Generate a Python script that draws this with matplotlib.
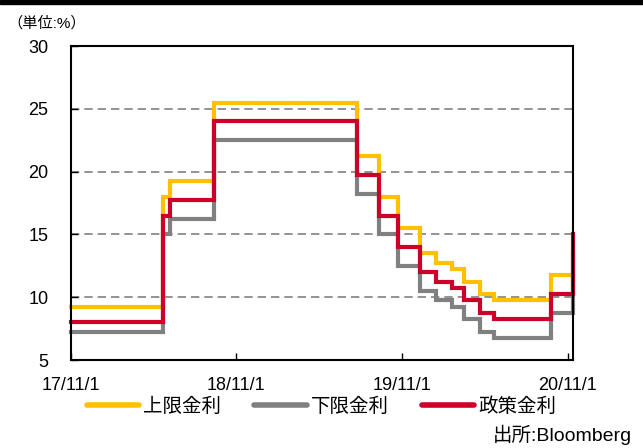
import matplotlib
matplotlib.use("Agg")
import matplotlib.pyplot as plt
import pandas as pd
from matplotlib.lines import Line2D
from matplotlib.patches import Rectangle

plt.rcParams['font.family'] = ['Liberation Sans', 'Noto Sans CJK JP']

dates = ['2017-11-01', '2018-05-24', '2018-06-07', '2018-09-13', '2019-07-25',
         '2019-09-12', '2019-10-24', '2019-12-12', '2020-01-16', '2020-02-19',
         '2020-03-17', '2020-04-22', '2020-05-21', '2020-09-24', '2020-11-13']
upper = [9.25, 18.0, 19.25, 25.5, 21.25, 18.0, 15.5, 13.5, 12.75, 12.25,
         11.25, 10.25, 9.75, 11.75, 11.75]
lower = [7.25, 15.0, 16.25, 22.5, 18.25, 15.0, 12.5, 10.5, 9.75, 9.25,
         8.25, 7.25, 6.75, 8.75, 13.5]
policy = [8.0, 16.5, 17.75, 24.0, 19.75, 16.5, 14.0, 12.0, 11.25, 10.75,
          9.75, 8.75, 8.25, 10.25, 15.0]
series_names = ['上限金利', '下限金利', '政策金利']
tick_dates = ['2017-11-01', '2018-11-01', '2019-11-01', '2020-11-01']
tick_labels = ['17/11/1', '18/11/1', '19/11/1', '20/11/1']
y_ticks = [5, 10, 15, 20, 25, 30]

colors = ['#FFC000', '#808080', '#CC0029']

x = pd.to_datetime(dates)

fig = plt.figure(figsize=(6.43, 4.48), dpi=100)
ax = fig.add_axes([0.1098, 0.1964, 0.7820, 0.7009])

for vals, c in zip([upper, lower, policy], colors):
    ax.plot(x, vals, drawstyle='steps-post', color=c, lw=3.0,
            solid_joinstyle='miter', clip_on=False)

ax.set_xlim(x[0], x[-1])
ax.set_ylim(5, 30)
ax.set_yticks(y_ticks)
ax.set_yticklabels([str(v) for v in y_ticks], fontsize=13)
ax.set_xticks(pd.to_datetime(tick_dates))
ax.set_xticklabels(tick_labels, fontsize=13)
ax.tick_params(axis='y', direction='in', length=5, width=1, pad=16)
ax.tick_params(axis='x', direction='in', length=5, width=1, pad=12)

for v in [10, 15, 20, 25]:
    ax.axhline(v, color='#808080', lw=1.2, ls=(0, (5, 3)), zorder=0)

for s in ax.spines.values():
    s.set_color('black')
    s.set_linewidth(1.5)

handles = [Line2D([0], [0], color=c, lw=4.0, solid_capstyle='round') for c in colors]
fig.legend(handles, series_names, loc='center', bbox_to_anchor=(0.5, 0.092),
           ncol=3, frameon=False, fontsize=14, handlelength=2.7,
           columnspacing=1.7, handletextpad=0.2)

fig.text(0.011, 0.949, '（単位:%）', fontsize=11, ha='left', va='center')
fig.text(0.767, 0.006, '出所:Bloomberg', fontsize=14, ha='left', va='bottom')
fig.patches.append(Rectangle((0, 0.991), 1, 0.009, transform=fig.transFigure,
                             color='black', zorder=10))

fig.savefig('out.png', dpi=100)
